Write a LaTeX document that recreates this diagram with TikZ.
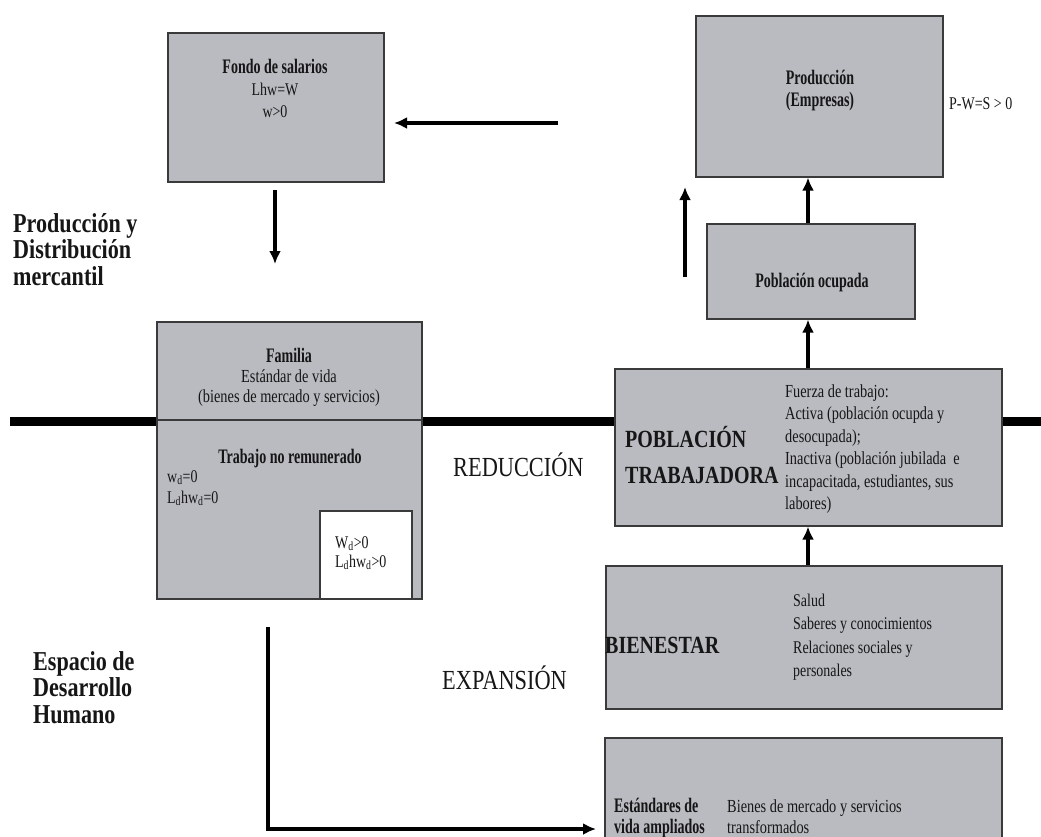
\documentclass[tikz,border=0pt]{standalone}
\usepackage{fontspec}
\setmainfont{Liberation Serif}[FakeStretch=0.78]
\newfontfamily\cbold{Liberation Serif}[FakeStretch=0.68]
\newfontfamily\bigf{Liberation Serif}[FakeStretch=0.81]
\usetikzlibrary{arrows.meta}
\definecolor{boxfill}{RGB}{185,187,192}
\definecolor{boxline}{RGB}{58,58,58}
\definecolor{ink}{RGB}{22,22,22}
\newcommand\plainsz{\rmfamily\mdseries\fontsize{17.9}{20}\selectfont}

\begin{document}
\begin{tikzpicture}[x=1pt,y=-1pt,
  box/.style={draw=boxline, fill=boxfill, line width=1.6pt, inner sep=0pt, anchor=north west},
  txt/.style={inner sep=0pt, text=ink, font=\fontsize{17.9}{20}\selectfont},
  hd/.style={txt, font=\cbold\bfseries\fontsize{20.6}{22}\selectfont},
  big/.style={txt, font=\bigf\fontsize{27.6}{27.6}\selectfont},
  bigb/.style={txt, font=\bigf\bfseries\fontsize{27.3}{26.5}\selectfont},
  arr/.style={line width=3.2pt, draw=black, -{Latex[length=13pt,width=12pt]}},
  rule/.style={line width=9pt, draw=black}]

\clip (0,0) rectangle (1041,836);
\fill[white] (0,0) rectangle (1041,836);

% horizontal dividing rule
\coordinate (ruleL) at (10,421);
\coordinate (ruleR) at (1045,421);
\draw[rule] (ruleL) -- (ruleR);

% boxes
\node[box, minimum width=216pt, minimum height=149pt] (fondo) at (167,32) {};
\node[box, minimum width=247pt, minimum height=161pt] (prod) at (695,15) {};
\node[box, minimum width=208pt, minimum height=95pt] (ocup) at (706,223) {};
\node[box, minimum width=265pt, minimum height=277pt] (fam) at (156,321) {};
\coordinate (divY) at (0,420);
\draw[boxline, line width=1.4pt] (fam.west |- divY) -- (fam.east |- divY);
\node[box, fill=white, minimum width=92pt, minimum height=88pt] (paid) at (319,510) {};
\node[box, minimum width=387pt, minimum height=157pt] (pt) at (614,368) {};
\node[box, minimum width=396pt, minimum height=143pt] (bien) at (605,565) {};
\node[box, minimum width=397pt, minimum height=120pt] (est) at (604,737) {};

% vertical chain of arrows on the right
\coordinate (ax) at (808,0);
\draw[arr] (ocup.north -| ax) -- (prod.south -| ax);
\draw[arr] (pt.north -| ax) -- (ocup.south -| ax);
\draw[arr] (bien.north -| ax) -- (pt.south -| ax);

% free-standing arrows
\coordinate (wageFrom) at (558,123);
\coordinate (wageTo) at (394,123);
\draw[arr] (wageFrom) -- (wageTo);
\coordinate (fundFrom) at (275,190);
\coordinate (fundTo) at (275,264);
\draw[arr] (fundFrom) -- (fundTo);
\coordinate (riseFrom) at (685,277);
\coordinate (riseTo) at (685,187);
\draw[arr] (riseFrom) -- (riseTo);
\coordinate (expFrom) at (268,627);
\coordinate (expCorner) at (268,829);
\coordinate (expTo) at (596,829);
\draw[arr] (expFrom) -- (expCorner) -- (expTo);

% texts in the boxes
\node[hd, anchor=base] (fondoT) at (275,73)
  {\begin{tabular}[t]{@{}c@{}}Fondo de salarios\\ {\plainsz Lhw=W}\\ {\plainsz w>0}\end{tabular}};
\node[hd, anchor=base] (prodT) at (820,84)
  {\begin{tabular}[t]{@{}c@{}}Producción\\ (Empresas)\end{tabular}};
\node[txt, anchor=base west] (pws) at (949,109) {P-W=S > 0};
\node[hd, anchor=base] (ocupT) at (812,287) {Población ocupada};

\node[hd, anchor=base, font=\cbold\bfseries\fontsize{20.6}{20}\selectfont] (famT) at (289,362)
  {\begin{tabular}[t]{@{}c@{}}Familia\\ {\plainsz\fontsize{18.4}{20}\selectfont Estándar de vida}\\ {\plainsz\fontsize{18.4}{20}\selectfont (bienes de mercado y servicios)}\end{tabular}};
\node[hd, anchor=base] (unpaidT) at (290,463) {Trabajo no remunerado};
\node[txt, anchor=base west, font=\fontsize{17.9}{21}\selectfont] (unpaidEq) at (167,482)
  {\begin{tabular}[t]{@{}l@{}}w\textsubscript{d}=0\\ L\textsubscript{d}hw\textsubscript{d}=0\end{tabular}};
\node[txt, anchor=base west, font=\fontsize{17.9}{19}\selectfont] (paidEq) at (335,548)
  {\begin{tabular}[t]{@{}l@{}}W\textsubscript{d}>0\\ L\textsubscript{d}hw\textsubscript{d}>0\end{tabular}};

\node[bigb, anchor=base west, font=\bigf\bfseries\fontsize{24.7}{36}\selectfont] (ptT) at (625,447)
  {\begin{tabular}[t]{@{}l@{}}POBLACIÓN\\ TRABAJADORA\end{tabular}};
\node[txt, anchor=base west, font=\fontsize{18.4}{22.5}\selectfont] (ptR) at (785,397)
  {\begin{tabular}[t]{@{}l@{}}Fuerza de trabajo:\\ Activa (población ocupda y\\ desocupada);\\ Inactiva (población jubilada\ \ e\\ incapacitada, estudiantes, sus\\ labores)\end{tabular}};

\node[bigb, anchor=base west, font=\bigf\bfseries\fontsize{24.7}{26}\selectfont] (bienT) at (605,653) {BIENESTAR};
\node[txt, anchor=base west, font=\fontsize{17.9}{23.5}\selectfont] (bienR) at (793,606)
  {\begin{tabular}[t]{@{}l@{}}Salud\\ Saberes y conocimientos\\ Relaciones sociales y\\ personales\end{tabular}};

\node[hd, anchor=base west, font=\cbold\bfseries\fontsize{20.6}{21}\selectfont] (estT) at (614,812)
  {\begin{tabular}[t]{@{}l@{}}Estándares de\\ vida ampliados\end{tabular}};
\node[txt, anchor=base west, font=\fontsize{18.4}{21}\selectfont] (estR) at (727,812)
  {\begin{tabular}[t]{@{}l@{}}Bienes de mercado y servicios\\ transformados\end{tabular}};

% free labels
\node[bigb, anchor=base west] (spaceA) at (13,232)
  {\begin{tabular}[t]{@{}l@{}}Producción y\\ Distribución\\ mercantil\end{tabular}};
\node[bigb, anchor=base west] (spaceB) at (33,670)
  {\begin{tabular}[t]{@{}l@{}}Espacio de\\ Desarrollo\\ Humano\end{tabular}};
\node[big, anchor=base west] (reduc) at (453,476) {REDUCCIÓN};
\node[big, anchor=base west] (expan) at (442,689) {EXPANSIÓN};
\end{tikzpicture}
\end{document}
